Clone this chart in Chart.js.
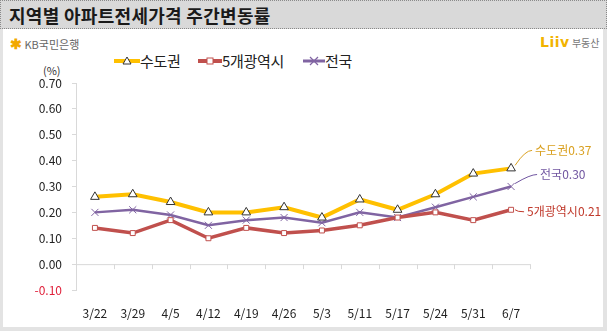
<!DOCTYPE html>
<html>
<head>
<meta charset="utf-8">
<script src="https://cdn.jsdelivr.net/npm/chart.js@4"></script>
<style>
  body { margin: 0; background: #e3e3e3; font-family: "Noto Sans CJK KR", sans-serif; }
  #wrap { position: relative; width: 607px; height: 331px; overflow: hidden; }
  #titlebar { position: absolute; left: 0; top: 0; width: 605px; height: 27px; background: #d9d9d9;
    border: 1px dotted #8a8a8a; }
  #titlebar span { position: absolute; left: 8px; top: 1px; font-size: 18px; font-weight: bold; color: #1a1a1a; letter-spacing: 0.3px; }
  #panel { position: absolute; left: 3px; top: 29px; width: 600px; height: 298px; background: #fff; }
  #myChart { position: absolute; left: 0; top: 0; }
  .kb { position: absolute; left: 10px; top: 33px; font-size: 11px; color: #666; white-space: nowrap; }
  .kb b { color: #f2a900; font-size: 14px; }
  .liiv { position: absolute; left: 540px; top: 34px; font-size: 10px; color: #777; white-space: nowrap; }
  .liiv b { color: #f2b300; font-size: 14px; font-family: "DejaVu Sans", sans-serif; letter-spacing: 0.5px; }
  .unit { position: absolute; left: 43px; top: 62px; font-size: 11px; color: #333; }
  #legend { position: absolute; left: 0; top: 50px; font-size: 15px; color: #222; white-space: nowrap; }
  #legend .item { position: absolute; top: 0; letter-spacing: -0.3px; }
  #legend svg { vertical-align: -1px; }
</style>
</head>
<body>
<div id="wrap">
  <div id="titlebar"><span>지역별 아파트전세가격 주간변동률</span></div>
  <div id="panel"></div>
  <div class="kb"><b>✱</b> KB국민은행</div>
  <div class="liiv"><b>Liiv</b> 부동산</div>
  <div class="unit">(%)</div>
  <div id="legend">
    <span class="item" style="left:114px"><svg width="26" height="14"><line x1="0" y1="7" x2="26" y2="7" stroke="#ffc000" stroke-width="4"/><polygon points="13,3 17,10 9,10" fill="#fff" stroke="#333" stroke-width="1"/></svg>수도권</span>
    <span class="item" style="left:198px"><svg width="24" height="14"><line x1="0" y1="7" x2="24" y2="7" stroke="#c0504d" stroke-width="4"/><rect x="9" y="4" width="6" height="6" fill="#fff" stroke="#c0504d" stroke-width="1"/></svg>5개광역시</span>
    <span class="item" style="left:303px"><svg width="22" height="14"><line x1="0" y1="7" x2="22" y2="7" stroke="#8064a2" stroke-width="3"/><path d="M7 3 L15 11 M15 3 L7 11" stroke="#8064a2" stroke-width="1.2"/></svg>전국</span>
  </div>
  <canvas id="myChart" width="607" height="331"></canvas>
</div>

<script>
// weekly change of apartment jeonse prices (%)
const weeks = ["3/22", "3/29", "4/5", "4/12", "4/19", "4/26", "5/3", "5/11", "5/17", "5/24", "5/31", "6/7"];
const capitalArea = [0.26, 0.27, 0.24, 0.20, 0.20, 0.22, 0.18, 0.25, 0.21, 0.27, 0.35, 0.37];
const fiveMetro = [0.14, 0.12, 0.17, 0.10, 0.14, 0.12, 0.13, 0.15, 0.18, 0.20, 0.17, 0.21];
const nationwide = [0.20, 0.21, 0.19, 0.15, 0.17, 0.18, 0.16, 0.20, 0.18, 0.22, 0.26, 0.30];
const yTicks = [-0.1, 0, 0.1, 0.2, 0.3, 0.4, 0.5, 0.6, 0.7];

const font = "'Noto Sans CJK KR', sans-serif";

// zero line with little ticks between categories
const zeroLine = {
    id: 'zeroLine',
    beforeDatasetsDraw(chart) {
        const ctx = chart.ctx;
        const x = chart.scales.x;
        const y0 = chart.scales.y.getPixelForValue(0);
        const step = x.getPixelForValue(1) - x.getPixelForValue(0);
        ctx.save();
        ctx.strokeStyle = '#d9d9d9';
        ctx.lineWidth = 1;
        ctx.beginPath();
        ctx.moveTo(chart.chartArea.left, y0 + 0.5);
        ctx.lineTo(chart.chartArea.right, y0 + 0.5);
        for (let i = 0; i < weeks.length; i++) {
            const px = Math.round(x.getPixelForValue(i) + step / 2) + 0.5;
            ctx.moveTo(px, y0);
            ctx.lineTo(px, y0 + 5);
        }
        ctx.stroke();
        ctx.restore();
    }
};

// end labels with leader lines
const endLabels = {
    id: 'endLabels',
    afterDatasetsDraw(chart) {
        const ctx = chart.ctx;
        const cfg = [
            { ds: 0, text: '수도권' + capitalArea[11].toFixed(2), color: '#d9a020', dx: 24, dy: -18 },
            { ds: 1, text: '5개광역시' + fiveMetro[11].toFixed(2), color: '#c0392b', dx: 16, dy: 2 },
            { ds: 2, text: '전국' + nationwide[11].toFixed(2), color: '#7055a0', dx: 29, dy: -12 }
        ];
        ctx.save();
        ctx.font = "12px " + font;
        ctx.textBaseline = 'middle';
        cfg.forEach(c => {
            const pt = chart.getDatasetMeta(c.ds).data[11];
            const tx = pt.x + c.dx, ty = pt.y + c.dy;
            ctx.strokeStyle = c.color;
            ctx.lineWidth = 1;
            ctx.beginPath();
            ctx.moveTo(pt.x + 4, pt.y - (c.dy < 0 ? 3 : 0));
            ctx.quadraticCurveTo(tx - 10, ty, tx - 3, ty);
            ctx.stroke();
            ctx.fillStyle = c.color;
            ctx.fillText(c.text, tx, ty);
        });
        ctx.restore();
    }
};

const myChart = document.getElementById('myChart');

let lineChart = new Chart(myChart, {
    type: 'line',
    data: {
        labels: weeks,
        datasets: [
            {
                label: '수도권',
                data: capitalArea,
                borderColor: '#ffc000',
                borderWidth: 4,
                pointStyle: 'triangle',
                pointRadius: 5,
                pointBackgroundColor: '#fff',
                pointBorderColor: '#333',
                pointBorderWidth: 1,
                tension: 0
            },
            {
                label: '5개광역시',
                data: fiveMetro,
                borderColor: '#c0504d',
                borderWidth: 3.5,
                pointStyle: 'rect',
                pointRadius: 3.5,
                pointBackgroundColor: '#fff',
                pointBorderColor: '#c0504d',
                pointBorderWidth: 1,
                tension: 0
            },
            {
                label: '전국',
                data: nationwide,
                borderColor: '#8064a2',
                borderWidth: 2.5,
                pointStyle: 'crossRot',
                pointRadius: 5,
                pointBorderColor: '#8064a2',
                pointBorderWidth: 1,
                tension: 0
            }
        ]
    },
    options: {
        responsive: false,
        animation: false,
        layout: { padding: { left: 0, right: 77, top: 83, bottom: 0 } },
        plugins: {
            legend: { display: false },
            tooltip: { enabled: false }
        },
        scales: {
            x: {
                offset: true,
                grid: { display: false },
                border: { display: false },
                ticks: { color: '#222', font: { family: font, size: 12 }, padding: 8, maxRotation: 0 },
                afterFit: s => { s.height = 41; }
            },
            y: {
                min: -0.1,
                max: 0.7,
                afterBuildTicks: s => { s.ticks = yTicks.map(v => ({ value: v })); },
                afterFit: s => { s.width = 76; },
                grid: { drawOnChartArea: false, drawTicks: true, tickLength: 4, color: '#d9d9d9' },
                border: { color: '#d9d9d9' },
                ticks: {
                    padding: 10,
                    font: { family: font, size: 12 },
                    color: ctx => ctx.tick.value < 0 ? '#e0203a' : '#222',
                    callback: v => v.toFixed(2)
                }
            }
        }
    },
    plugins: [zeroLine, endLabels]
});
</script>
</body>
</html>
